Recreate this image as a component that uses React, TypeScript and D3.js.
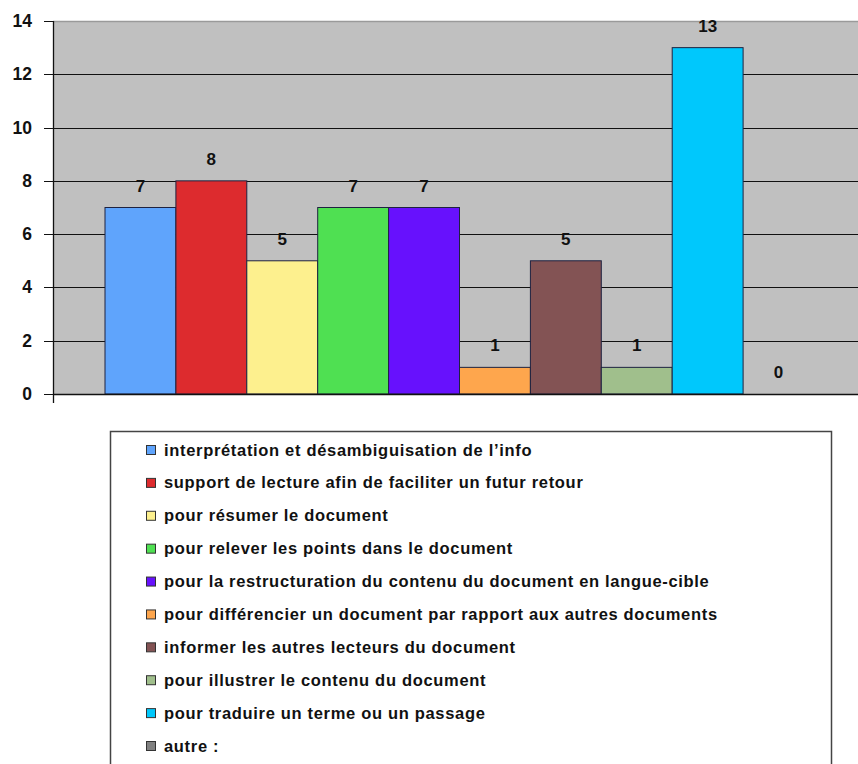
import React from "react";
import * as d3 from "d3";

const categories = [
  "interprétation et désambiguisation de l’info",
  "support de lecture afin de faciliter un futur retour",
  "pour résumer le document",
  "pour relever les points dans le document",
  "pour la restructuration du contenu du document en langue-cible",
  "pour différencier un document par rapport aux autres documents",
  "informer les autres lecteurs du document",
  "pour illustrer le contenu du document",
  "pour traduire un terme ou un passage",
  "autre :",
];
const values = [7, 8, 5, 7, 7, 1, 5, 1, 13, 0];
const colors = [
  "#5fa4fc",
  "#dd2b2e",
  "#fdf08e",
  "#4fe052",
  "#6711fd",
  "#fea64d",
  "#835354",
  "#a0bf8c",
  "#00c8fc",
  "#808080",
];
const yTicks = [0, 2, 4, 6, 8, 10, 12, 14];

const W = 858;
const H = 764;
const plotLeft = 53;
const plotRight = 860;
const plotTop = 21;
const plotBottom = 394;

export default function App() {
  const y = d3.scaleLinear().domain([0, 14]).range([plotBottom, plotTop]);
  const x = d3.scaleBand<string>().domain(categories).range([105, 814]).padding(0);
  const font = "'Liberation Sans', Arial, sans-serif";
  const legendY = d3
    .scalePoint<string>()
    .domain(categories)
    .range([450, 746]);

  return (
    <div style={{ position: "fixed", left: 0, top: 0 }}>
      <svg width={W} height={H} style={{ display: "block", background: "#fff" }}>
        <rect x={plotLeft} y={plotTop} width={plotRight - plotLeft} height={plotBottom - plotTop} fill="#c0c0c0" />
        <line x1={plotLeft} x2={plotRight} y1={plotTop + 0.5} y2={plotTop + 0.5} stroke="#9a9a9a" strokeWidth={1.5} />
        {yTicks.filter((t) => t > 0 && t < 14).map((t) => (
          <line key={"g" + t} x1={plotLeft} x2={plotRight} y1={Math.round(y(t)) + 0.5} y2={Math.round(y(t)) + 0.5} stroke="#111" strokeWidth={1} />
        ))}
        {categories.map((c, i) => (
          <rect
            key={"b" + i}
            x={x(c)!}
            y={y(values[i])}
            width={x.bandwidth()}
            height={plotBottom - y(values[i])}
            fill={colors[i]}
            stroke="#1e2240"
            strokeWidth={values[i] > 0 ? 1 : 0}
          />
        ))}
        {categories.map((c, i) => (
          <text
            key={"l" + i}
            x={x(c)! + x.bandwidth() / 2}
            y={y(values[i]) - 16}
            textAnchor="middle"
            fontFamily={font}
            fontWeight="bold"
            fontSize={17}
            fill="#111"
          >
            {values[i]}
          </text>
        ))}
        <line x1={plotLeft} x2={plotRight} y1={plotBottom + 0.5} y2={plotBottom + 0.5} stroke="#111" strokeWidth={1.3} />
        <line x1={plotLeft + 0.5} x2={plotLeft + 0.5} y1={plotTop} y2={plotBottom + 9} stroke="#111" strokeWidth={1.3} />
        {yTicks.map((t) => (
          <g key={"t" + t}>
            <line x1={plotLeft - 9} x2={plotLeft} y1={Math.round(y(t)) + 0.5} y2={Math.round(y(t)) + 0.5} stroke="#111" strokeWidth={1} />
            <text
              x={32}
              y={y(t) + 6}
              textAnchor="end"
              fontFamily={font}
              fontWeight="bold"
              fontSize={17.5}
              fill="#111"
            >
              {t}
            </text>
          </g>
        ))}
        <rect x={110.5} y={431.5} width={721} height={360} fill="#fff" stroke="#444" strokeWidth={1.5} />
        {categories.map((c, i) => (
          <g key={"lg" + i}>
            <rect x={146.5} y={legendY(c)! - 4.5} width={9} height={9} fill={colors[i]} stroke="#333" strokeWidth={1} />
            <text x={164} y={legendY(c)! + 5.5} fontFamily={font} fontWeight="bold" fontSize={16.5} letterSpacing={0.68} fill="#111">
              {c}
            </text>
          </g>
        ))}
      </svg>
    </div>
  );
}
